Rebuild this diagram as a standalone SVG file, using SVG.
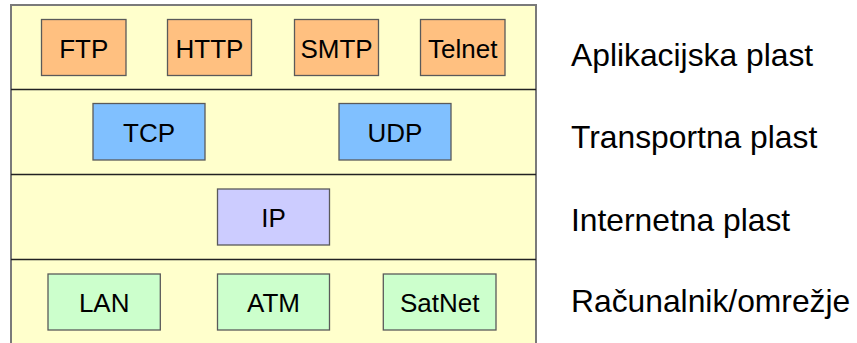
<svg xmlns="http://www.w3.org/2000/svg" width="857" height="343" viewBox="0 0 857 343">
  <style>
    .layer { fill: #ffffcc; stroke: none; }
    .frame { fill: none; stroke: #7a7a7a; stroke-width: 2; }
    .divider { stroke: #222222; stroke-width: 1.3; }
    .box { stroke: #5a5a5a; stroke-width: 1.3; }
    .app { fill: #ffc080; }
    .tr { fill: #80c0ff; }
    .net { fill: #ccccff; }
    .link { fill: #ccffcc; }
    .t { font-family: "Liberation Sans", Arial, sans-serif; font-size: 26px; fill: #000; text-anchor: middle; }
    .lbl { font-family: "Liberation Sans", Arial, sans-serif; font-size: 31.8px; fill: #000; }
  </style>

  <!-- layer stack background -->
  <g id="stack">
    <rect class="layer" x="11" y="5" width="525" height="345"/>
    <path class="frame" d="M11 345 V5 H536 V345"/>
  </g>

  <!-- separators between layers -->
  <g id="connectors">
    <line class="divider" x1="11" y1="89.5" x2="536" y2="89.5"/>
    <line class="divider" x1="11" y1="174.5" x2="536" y2="174.5"/>
    <line class="divider" x1="11" y1="259.5" x2="536" y2="259.5"/>
  </g>

  <!-- application layer -->
  <g id="ftp"><rect class="box app" x="41.5" y="19.5" width="84.5" height="56"/><text class="t" x="83.8" y="58.3">FTP</text></g>
  <g id="http"><rect class="box app" x="167.5" y="19.5" width="84" height="56"/><text class="t" x="209.5" y="58.3">HTTP</text></g>
  <g id="smtp"><rect class="box app" x="294.5" y="19.5" width="84" height="56"/><text class="t" x="336.5" y="58.3">SMTP</text></g>
  <g id="telnet"><rect class="box app" x="420.5" y="19.5" width="84.5" height="56"/><text class="t" x="462.8" y="58.3">Telnet</text></g>

  <!-- transport layer -->
  <g id="tcp"><rect class="box tr" x="93" y="103.5" width="112" height="56.5"/><text class="t" x="149" y="141.7">TCP</text></g>
  <g id="udp"><rect class="box tr" x="339" y="103.5" width="112" height="56.5"/><text class="t" x="395" y="141.7">UDP</text></g>

  <!-- internet layer -->
  <g id="ip"><rect class="box net" x="217.5" y="189" width="112" height="56"/><text class="t" x="273.5" y="227.3">IP</text></g>

  <!-- host / network layer -->
  <g id="lan"><rect class="box link" x="48" y="274" width="112.3" height="56"/><text class="t" x="104.2" y="312.3">LAN</text></g>
  <g id="atm"><rect class="box link" x="217.5" y="274" width="112" height="56"/><text class="t" x="273.5" y="312.3">ATM</text></g>
  <g id="satnet"><rect class="box link" x="383.3" y="274" width="112.7" height="56"/><text class="t" x="439.7" y="312.3">SatNet</text></g>

  <!-- layer names -->
  <g id="labels">
    <text class="lbl" x="571" y="65.7">Aplikacijska plast</text>
    <text class="lbl" x="571" y="148.3">Transportna plast</text>
    <text class="lbl" x="571" y="231">Internetna plast</text>
    <text class="lbl" x="571" y="312">Računalnik/omrežje</text>
  </g>
</svg>
